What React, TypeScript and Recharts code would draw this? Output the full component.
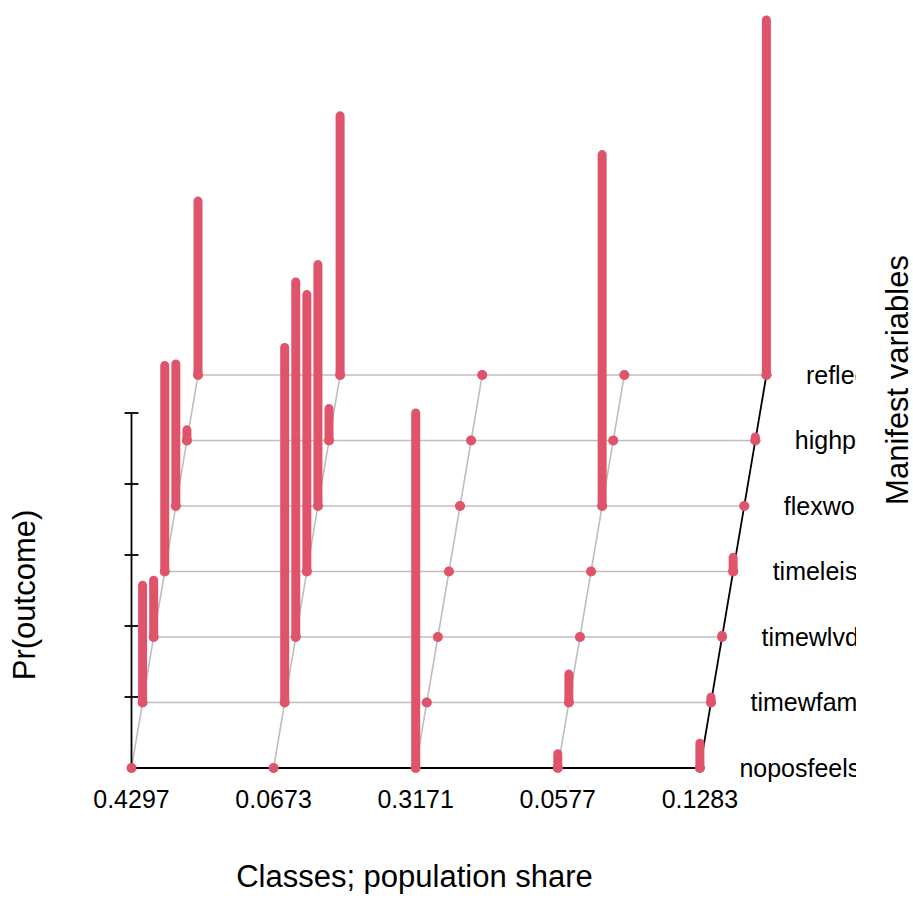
import { ComposedChart, XAxis, YAxis, ReferenceLine, Scatter } from "recharts";

// classes (x) with their population shares
const classShares = ["0.4297", "0.0673", "0.3171", "0.0577", "0.1283"];
// manifest variables, front row first (depth axis)
const variables = ["noposfeels", "timewfam", "timewlvd", "timeleis", "flexwork", "highpress", "reflect"];

// Pr(outcome) per class, in the same order as `variables`
const class1 = [0, 0.33, 0.16, 0.58, 0.4, 0.03, 0.49];
const class2 = [0, 1.0, 1.0, 0.78, 0.68, 0.09, 0.73];
const class3 = [1.0, 0, 0, 0, 0, 0, 0];
const class4 = [0.04, 0.08, 0, 0, 0.99, 0, 0];
const class5 = [0.07, 0.015, 0.005, 0.04, 0, 0.01, 1.0];
const classProbs = [class1, class2, class3, class4, class5];

const zTicks = [0.2, 0.4, 0.6, 0.8, 1.0];

const BAR = "#DF536B";
const GRID = "#BEBEBE";
const FONT = "'Liberation Sans', Arial, sans-serif";

// oblique projection of the depth axis (like scatterplot3d, angle ~ 80deg)
const DEPTH_X = 0.078;
const DEPTH_Y = 0.1845;
const LABEL_GAP = 0.278;
const proj = (c: number, v: number, z = 0) => ({ x: c + DEPTH_X * v, y: DEPTH_Y * v + z });

const lastClass = classShares.length - 1;
const lastVar = variables.length - 1;

const basePoints = classProbs.flatMap((probs, c) => probs.map((_, v) => proj(c, v)));
const labelPoints = variables.map((name, v) => ({ ...proj(lastClass + LABEL_GAP, v), name }));

const ClassTick = (props: any) => {
    const { x, y, payload } = props;
    return (
        <text x={x} y={y} dy={4.5} textAnchor="middle" fontSize={25} fontFamily={FONT} fill="#000">
            {classShares[payload.value]}
        </text>
    );
};

// variable names are cut at the plot region edge, as in the R device
const VarLabel = (props: any) => {
    const { cx, cy, payload } = props;
    const id = `clip-${payload.name}`;
    return (
        <g>
            <defs>
                <clipPath id={id}>
                    <rect x={0} y={0} width={856} height={900} />
                </clipPath>
            </defs>
            <text x={cx} y={cy} dy={8.5} fontSize={25} fontFamily={FONT} fill="#000" clipPath={`url(#${id})`}>
                {payload.name}
            </text>
        </g>
    );
};

const Dot = (props: any) => <circle cx={props.cx} cy={props.cy} r={5} fill={BAR} />;

export default function App() {
    return (
        <div style={{ position: "relative", width: 913, height: 900, background: "#fff" }}>
            <style>{"body{margin:0}"}</style>
            <ComposedChart width={913} height={900} margin={{ top: 4.75, right: 71, bottom: 66.5, left: 60.45 }}>
                <XAxis
                    type="number"
                    dataKey="x"
                    domain={[-0.5, 5]}
                    ticks={[0, 1, 2, 3, 4]}
                    height={30}
                    axisLine={false}
                    tickLine={false}
                    tickSize={0}
                    tickMargin={0}
                    tick={<ClassTick />}
                    interval={0}
                />
                <YAxis type="number" dataKey="y" domain={[-0.1, 2.15]} hide />

                {/* grey floor grid: rows per variable, depth lines per class */}
                {variables.slice(1).map((_, i) => (
                    <ReferenceLine
                        key={`row${i}`}
                        segment={[proj(0, i + 1), proj(lastClass, i + 1)]}
                        stroke={GRID}
                        strokeWidth={1.6}
                        ifOverflow="visible"
                    />
                ))}
                {classShares.slice(0, lastClass).map((_, c) => (
                    <ReferenceLine
                        key={`depth${c}`}
                        segment={[proj(c, 0), proj(c, lastVar)]}
                        stroke={GRID}
                        strokeWidth={1.6}
                        ifOverflow="visible"
                    />
                ))}

                {/* box axes */}
                <ReferenceLine segment={[proj(0, 0), proj(lastClass, 0)]} stroke="#000" strokeWidth={1.8} ifOverflow="visible" />
                <ReferenceLine segment={[proj(lastClass, 0), proj(lastClass, lastVar)]} stroke="#000" strokeWidth={1.8} ifOverflow="visible" />
                <ReferenceLine segment={[proj(0, 0), proj(0, 0, 1)]} stroke="#000" strokeWidth={1.8} ifOverflow="visible" />
                {zTicks.map((z) => (
                    <ReferenceLine
                        key={`zt${z}`}
                        segment={[{ x: -0.049, y: z }, { x: 0.049, y: z }]}
                        stroke="#000"
                        strokeWidth={1.8}
                        ifOverflow="visible"
                    />
                ))}
                {variables.map((_, v) => (
                    <ReferenceLine
                        key={`vt${v}`}
                        segment={[proj(lastClass - 0.03, v), proj(lastClass + 0.035, v)]}
                        stroke="#000"
                        strokeWidth={1.5}
                        ifOverflow="visible"
                    />
                ))}

                {/* probability spikes */}
                {classProbs.flatMap((probs, c) =>
                    probs.map((p, v) => (
                        <ReferenceLine
                            key={`bar${c}-${v}`}
                            segment={[proj(c, v), proj(c, v, p)]}
                            stroke={BAR}
                            strokeWidth={9}
                            strokeLinecap="round"
                            ifOverflow="visible"
                        />
                    ))
                )}

                <Scatter data={basePoints} shape={<Dot />} isAnimationActive={false} />
                <Scatter data={labelPoints} shape={<VarLabel />} isAnimationActive={false} />
            </ComposedChart>

            <svg width={913} height={900} style={{ position: "absolute", left: 0, top: 0, pointerEvents: "none" }}>
                <g fontFamily={FONT} fontSize={31} fill="#000" textAnchor="middle">
                    <text x={414.5} y={887}>Classes; population share</text>
                    <text transform="translate(35,595) rotate(-90)">Pr(outcome)</text>
                    <text transform="translate(908,380) rotate(-90)">Manifest variables</text>
                </g>
            </svg>
        </div>
    );
}
